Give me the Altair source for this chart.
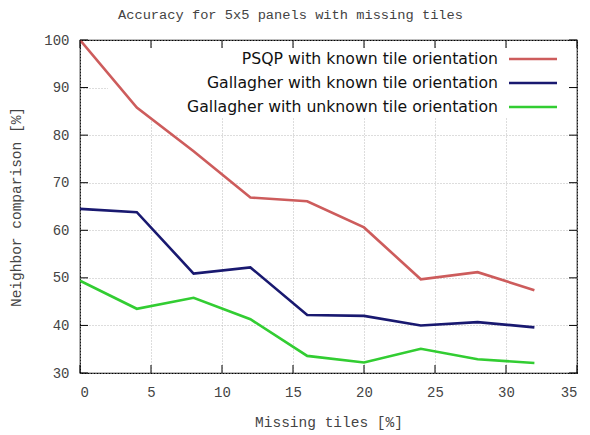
import altair as alt
import pandas as pd

missing = [0, 4, 8, 12, 16, 20, 24, 28, 32]
psqp_known = [100.0, 85.8, 76.6, 66.9, 66.1, 60.6, 49.7, 51.2, 47.4]
gal_known = [64.5, 63.8, 50.9, 52.2, 42.2, 42.0, 40.0, 40.7, 39.6]
gal_unknown = [49.4, 43.5, 45.8, 41.3, 33.6, 32.2, 35.1, 32.9, 32.1]

series_names = [
    "PSQP with known tile orientation",
    "Gallagher with known tile orientation",
    "Gallagher with unknown tile orientation",
]
series_colors = ["#cd5c5c", "#191970", "#32cd32"]
series_values = [psqp_known, gal_known, gal_unknown]

x_ticks = [0, 5, 10, 15, 20, 25, 30, 35]
y_ticks = [30, 40, 50, 60, 70, 80, 90, 100]

W, H = 497, 333
MONO = "Liberation Mono"
SANS = "DejaVu Sans"

rows = []
for name, vals in zip(series_names, series_values):
    for m, v in zip(missing, vals):
        rows.append({"missing": m, "value": v, "series": name})
df = pd.DataFrame(rows)

xscale = alt.Scale(domain=[0, 35], nice=False, zero=False)
yscale = alt.Scale(domain=[30, 100], nice=False, zero=False)

xaxis = alt.Axis(values=x_ticks, title="Missing tiles [%]", grid=True,
                 gridDash=[1, 2], gridColor="#bbbbbb", gridWidth=1,
                 ticks=False, domain=False, labelPadding=12,
                 labelFont=MONO, labelFontSize=14, labelColor="#444",
                 titleFont=MONO, titleFontSize=14.5, titleColor="#444",
                 titleFontWeight="normal", titlePadding=16)
yaxis = alt.Axis(values=y_ticks, title="Neighbor comparison [%]", grid=True,
                 gridDash=[1, 2], gridColor="#bbbbbb", gridWidth=1,
                 ticks=False, domain=False, labelPadding=11,
                 labelFont=MONO, labelFontSize=14, labelColor="#444",
                 titleFont=MONO, titleFontSize=14.5, titleColor="#444",
                 titleFontWeight="normal", titlePadding=20)

lines = alt.Chart(df).mark_line(strokeWidth=2.6, clip=True).encode(
    x=alt.X("missing:Q", scale=xscale, axis=xaxis),
    y=alt.Y("value:Q", scale=yscale, axis=yaxis),
    color=alt.Color("series:N", scale=alt.Scale(domain=series_names, range=series_colors),
                    legend=None),
    detail="series:N",
)

# white key background
key_bg = alt.Chart(pd.DataFrame({"a": [0]})).mark_rect(color="white").encode(
    x=alt.value(28), x2=alt.value(496), y=alt.value(9), y2=alt.value(78)
)

xt = pd.DataFrame({"missing": x_ticks})
yt = pd.DataFrame({"value": y_ticks})
tick_style = dict(color="black", strokeWidth=1)
ticks_bottom = alt.Chart(xt).mark_rule(**tick_style).encode(
    x=alt.X("missing:Q", scale=xscale, axis=xaxis), y=alt.value(H), y2=alt.value(H - 8))
ticks_top = alt.Chart(xt).mark_rule(**tick_style).encode(
    x=alt.X("missing:Q", scale=xscale, axis=xaxis), y=alt.value(0), y2=alt.value(8))
ticks_left = alt.Chart(yt).mark_rule(**tick_style).encode(
    y=alt.Y("value:Q", scale=yscale, axis=yaxis), x=alt.value(0), x2=alt.value(8))
ticks_right = alt.Chart(yt).mark_rule(**tick_style).encode(
    y=alt.Y("value:Q", scale=yscale, axis=yaxis), x=alt.value(W), x2=alt.value(W - 8))

key_layers = []
for i, (name, col) in enumerate(zip(series_names, series_colors)):
    yy = 19 + 24 * i
    key_layers.append(
        alt.Chart(pd.DataFrame({"label": [name]})).mark_text(
            align="right", baseline="middle", font=SANS, fontSize=15.7, color="#111"
        ).encode(text="label:N", x=alt.value(418), y=alt.value(yy))
    )
    key_layers.append(
        alt.Chart(pd.DataFrame({"label": [name]})).mark_rule(
            color=col, strokeWidth=2.6
        ).encode(x=alt.value(429), x2=alt.value(477), y=alt.value(yy))
    )

chart = alt.layer(
    key_bg, *key_layers, lines, ticks_bottom, ticks_top, ticks_left, ticks_right
).properties(
    width=W, height=H,
    title=alt.TitleParams("Accuracy for 5x5 panels with missing tiles", font=MONO,
                          fontSize=13.7, fontWeight="normal", color="#444",
                          anchor="middle", dx=-38, offset=11),
    autosize=alt.AutoSizeParams(type="none"),
    padding={"left": 72, "top": 32, "right": 5, "bottom": 60},
).configure(background="white").configure_view(stroke="black", strokeWidth=1.2)

chart.save("out.html", embed_options={"renderer": "svg", "actions": False})
